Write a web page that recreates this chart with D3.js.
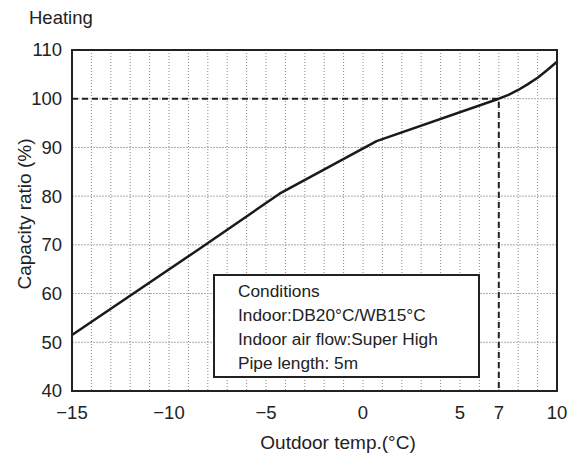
<!DOCTYPE html>
<html>
<head>
<meta charset="utf-8">
<script src="https://cdn.jsdelivr.net/npm/d3@7"></script>
<style>
  body { margin: 0; background: #fff; }
  svg { font-family: 'Liberation Sans', Arial, sans-serif; }
</style>
</head>
<body>
<svg id="chart" width="580" height="463"></svg>
<script>
'use strict'

// outdoor temperature (°C) and capacity ratio (%)
var temps = [-15, -8.5, -4.3, 0.7, 7, 7.5, 8, 8.5, 9, 9.5, 10]
var ratios = [51.5, 69, 80.5, 91.3, 100, 100.8, 101.8, 103, 104.3, 105.9, 107.6]

var xTicks = [-15, -10, -5, 0, 5, 7, 10]
var yTicks = [40, 50, 60, 70, 80, 90, 100, 110]
var ratedTemp = 7
var ratedRatio = 100

var conditions = [
  'Conditions',
  'Indoor:DB20°C/WB15°C',
  'Indoor air flow:Super High',
  'Pipe length: 5m'
]

var svg = d3.select('#chart')
var margin = { left: 72, right: 23, top: 50, bottom: 72 }
var width = 580 - margin.left - margin.right
var height = 463 - margin.top - margin.bottom

var x = d3.scaleLinear().domain([-15, 10]).range([0, width])
var y = d3.scaleLinear().domain([40, 110]).range([height, 0])

var g = svg.append('g')
  .attr('transform', 'translate(' + margin.left + ',' + margin.top + ')')

// grid: every degree vertically, every 10 % horizontally
g.append('g')
  .selectAll('line')
  .data(d3.range(-14, 10))
  .enter().append('line')
    .attr('x1', (d) => x(d))
    .attr('x2', (d) => x(d))
    .attr('y1', 0)
    .attr('y2', height)
    .attr('stroke', '#888')
    .attr('stroke-width', 1)
    .attr('stroke-dasharray', '1,2')

g.append('g')
  .selectAll('line')
  .data(yTicks.slice(1, -1))
  .enter().append('line')
    .attr('x1', 0)
    .attr('x2', width)
    .attr('y1', (d) => y(d))
    .attr('y2', (d) => y(d))
    .attr('stroke', '#aaa')
    .attr('stroke-width', 1)
    .attr('stroke-dasharray', '2,1')

// rated point guides
g.append('path')
  .attr('d', 'M' + x(-15) + ',' + y(ratedRatio) + 'H' + x(ratedTemp) + 'V' + y(40))
  .attr('fill', 'none')
  .attr('stroke', '#222')
  .attr('stroke-width', 2)
  .attr('stroke-dasharray', '6,4')

// conditions box
var box = g.append('g').attr('transform', 'translate(' + (214 - margin.left) + ',' + (275 - margin.top) + ')')
box.append('rect')
  .attr('width', 265)
  .attr('height', 102)
  .attr('fill', '#fff')
  .attr('stroke', '#222')
  .attr('stroke-width', 2)
box.selectAll('text')
  .data(conditions)
  .enter().append('text')
    .attr('x', 24)
    .attr('y', (d, i) => 22 + i * 24)
    .attr('font-size', 17.3)
    .attr('fill', '#222')
    .text((d) => d)

// curve
var line = d3.line()
  .x((d, i) => x(temps[i]))
  .y((d) => y(d))

g.append('path')
  .datum(ratios)
  .attr('d', line)
  .attr('fill', 'none')
  .attr('stroke', '#1a1a1a')
  .attr('stroke-width', 2.5)
  .attr('stroke-linejoin', 'round')

// frame
g.append('rect')
  .attr('width', width)
  .attr('height', height)
  .attr('fill', 'none')
  .attr('stroke', '#222')
  .attr('stroke-width', 2)

// tick labels
g.append('g')
  .selectAll('text')
  .data(xTicks)
  .enter().append('text')
    .attr('x', (d) => x(d))
    .attr('y', height + 28)
    .attr('text-anchor', 'middle')
    .attr('font-size', 18.5)
    .attr('fill', '#222')
    .text((d) => d3.format('d')(d))

g.append('g')
  .selectAll('text')
  .data(yTicks)
  .enter().append('text')
    .attr('x', -10)
    .attr('y', (d) => y(d))
    .attr('dy', '0.35em')
    .attr('text-anchor', 'end')
    .attr('font-size', 18.5)
    .attr('fill', '#222')
    .text((d) => d)

// titles
svg.append('text')
  .attr('x', 29)
  .attr('y', 24)
  .attr('font-size', 18.5)
  .attr('fill', '#222')
  .text('Heating')

svg.append('text')
  .attr('x', 338)
  .attr('y', 449)
  .attr('text-anchor', 'middle')
  .attr('font-size', 19)
  .attr('fill', '#222')
  .text('Outdoor temp.(°C)')

svg.append('text')
  .attr('transform', 'translate(31,214) rotate(-90)')
  .attr('text-anchor', 'middle')
  .attr('font-size', 19)
  .attr('fill', '#222')
  .text('Capacity ratio (%)')
</script>
</body>
</html>
